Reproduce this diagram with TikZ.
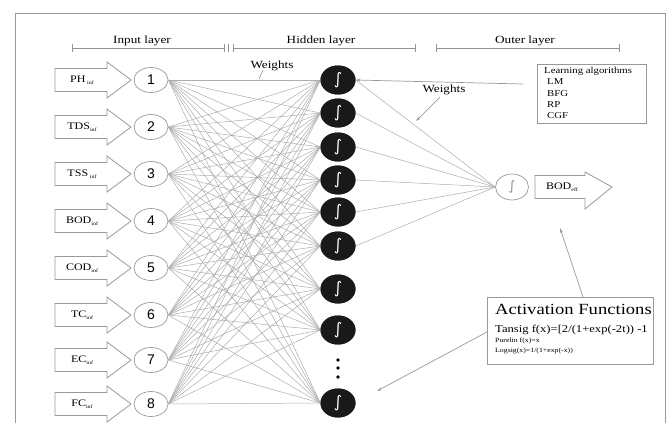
\documentclass[tikz,border=0pt]{standalone}
\usepackage{fontspec}
\setmainfont[FakeStretch=1.2]{Liberation Serif}
\newfontfamily\numfont{Liberation Sans}
\newfontfamily\symfont{DejaVu Sans}
\usetikzlibrary{arrows.meta,shapes.geometric}
\tikzset{
  frameline/.style={draw=gray!80, line width=0.8pt},
  bracket/.style={draw=gray!85, line width=0.7pt},
  inarrow/.style={draw=gray!80, line width=0.8pt, fill=white},
  innode/.style={ellipse, draw=gray!80, line width=0.7pt, fill=white, minimum width=34pt, minimum height=25pt, inner sep=0pt, font=\numfont\fontsize{14}{14}\selectfont},
  hidnode/.style={ellipse, fill=black!90, minimum width=35pt, minimum height=29pt, inner sep=0pt, text=white, font=\symfont\fontsize{16}{16}\selectfont},
  outnode/.style={ellipse, draw=gray!80, line width=0.7pt, fill=white, minimum width=33pt, minimum height=26pt, inner sep=0pt, text=gray!90, font=\symfont\fontsize{13}{13}\selectfont},
  wire/.style={draw=gray!65, line width=0.5pt},
  pointer/.style={draw=gray!80, line width=0.7pt, -{Stealth[length=5pt,width=3pt]}},
  lbl/.style={font=\fontsize{10}{10}\selectfont, inner sep=0pt},
  hdr/.style={font=\fontsize{11}{11}\selectfont, inner sep=0pt},
  infobox/.style={draw=gray!80, line width=0.8pt, fill=white},
}
\begin{document}
\begin{tikzpicture}[x=1pt,y=-1pt]
\useasboundingbox (0,0) rectangle (669,423);
\draw[frameline] (15,423) -- (15,13) -- (665,13) -- (665,423);

% layer brackets
\draw[bracket] (72,48) -- (224,48);
\draw[bracket] (72,44) -- (72,52) (224,44) -- (224,52) (228,44) -- (228,52);
\draw[bracket] (233,48) -- (415,48);
\draw[bracket] (233,44) -- (233,52) (415,44) -- (415,52);
\draw[bracket] (436,48) -- (619,48);
\draw[bracket] (436,44) -- (436,52) (619,44) -- (619,52);
\node[hdr] (tin) at (142,41) {Input layer};
\node[hdr] (thid) at (321,41) {Hidden layer};
\node[hdr] (tout) at (525,41) {Outer layer};

% input arrows and labels
\foreach \y/\t [count=\i] in {80/PH\,,127/TDS,174/TSS\,,221/BOD,268/COD,315/TC,360/EC,404/FC}{
  \draw[inarrow] (55,\y-11.5) -- (107,\y-11.5) -- (107,\y-18) -- (131,\y) -- (107,\y+18) -- (107,\y+11.5) -- (55,\y+11.5) -- cycle;
  \node[lbl] (lab\i) at (82,\y) {\t\raisebox{-0.5ex}{\fontsize{5}{5}\selectfont inf}};
}

% input nodes
\foreach \y [count=\i] in {80,127,174,221,268,315,360,404}{
  \node[innode] (i\i) at (151,\y) {\i};
}

% hidden nodes
\foreach \y [count=\j] in {80,113,147,180,212,246,289,330,403}{
  \node[hidnode] (h\j) at (338,\y) {∫};
}
\foreach \y in {360,368,377}{ \fill (338,\y) circle (1.8pt); }

% output node
\node[outnode] (o) at (512,187) {∫};

% wires input -> hidden
\foreach \i in {1,...,8}{
  \foreach \j in {1,...,9}{
    \draw[wire] (i\i.east) -- (h\j.west);
  }
}
% wires hidden -> output
\foreach \j in {1,...,6}{
  \draw[wire] (h\j.east) -- (o.west);
}
% redraw hidden nodes on top
\foreach \y [count=\j] in {80,113,147,180,212,246,289,330,403}{
  \node[hidnode] at (338,\y) {∫};
}

% output arrow
\draw[inarrow] (535,175.5) -- (585,175.5) -- (585,172) -- (612,187) -- (585,209) -- (585,198.5) -- (535,198.5) -- cycle;
\node[lbl] (bodeff) at (562,187) {BOD\raisebox{-0.5ex}{\fontsize{5}{5}\selectfont eff}};

% weights labels
\node[hdr] (w1) at (272,66) {Weights};
\coordinate (w1a) at (263,70);
\coordinate (w1b) at (259,79);
\draw[draw=gray!80, line width=0.7pt] (w1a) -- (w1b);
\node[hdr] (w2) at (444,90) {Weights};
\coordinate (w2a) at (440,97);
\coordinate (w2b) at (416,121);
\draw[pointer] (w2a) -- (w2b);

% learning algorithms box
\node[infobox, anchor=north west, minimum width=109pt, minimum height=59pt, inner sep=0pt] (la) at (537,64) {};
\node[anchor=north west, align=left, inner sep=0pt, font=\fontsize{9}{11.3}\selectfont] (latext) at (544,67) {Learning algorithms\\[0pt]\hspace{3pt}LM\\\hspace{3pt}BFG\\\hspace{3pt}RP\\\hspace{3pt}CGF};
\coordinate (lastart) at (523,84);
\draw[pointer] (lastart) -- (h1.east);

% activation functions box
\node[infobox, anchor=north west, minimum width=166pt, minimum height=67pt, inner sep=0pt] (af) at (487,297) {};
\node[anchor=west, inner sep=0pt, font=\fontsize{15.5}{15.5}\selectfont] (aft) at (495,309) {Activation Functions};
\node[anchor=west, inner sep=0pt, font=\fontsize{10.5}{10.5}\selectfont] (af1) at (495,330) {Tansig f(x)=[2/(1+exp(-2t)) -1};
\node[anchor=west, inner sep=0pt, font=\fontsize{6.5}{6.5}\selectfont] (af2) at (495,341) {Purelin f(x)=x};
\node[anchor=west, inner sep=0pt, font=\fontsize{6.5}{6.5}\selectfont] (af3) at (495,351) {Logsig(x)=1/(1+exp(-x))};
\coordinate (afup) at (560,228);
\coordinate (afdown) at (377,391);
\draw[pointer] (583,297) -- (afup);
\draw[pointer] (487,332) -- (afdown);
\end{tikzpicture}
\end{document}
